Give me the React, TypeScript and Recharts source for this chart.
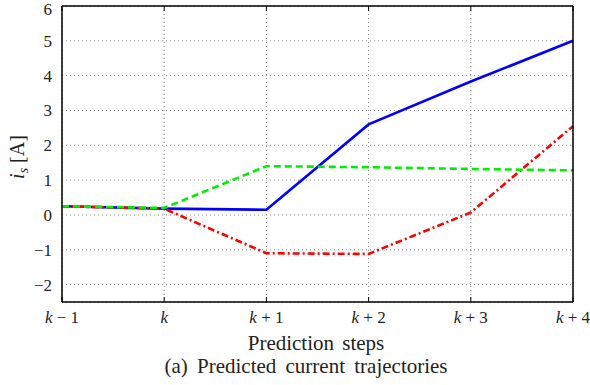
import React from 'react';
import { LineChart, Line, XAxis, YAxis, CartesianGrid } from 'recharts';

// prediction steps k-1 ... k+4
const steps = [0, 1, 2, 3, 4, 5];
const stepSuffix = ['\u2212 1', '', '+ 1', '+ 2', '+ 3', '+ 4'];
const blueTrajectory = [0.25, 0.18, 0.15, 2.6, 3.83, 5.0];
const greenTrajectory = [0.25, 0.2, 1.4, 1.37, 1.32, 1.28];
const redTrajectory = [0.25, 0.18, -1.1, -1.12, 0.07, 2.55];
const yTicks = [-2, -1, 0, 1, 2, 3, 4, 5, 6];

const data = steps.map((s, i) => ({
  step: s,
  blue: blueTrajectory[i],
  green: greenTrajectory[i],
  red: redTrajectory[i],
}));

const FONT = '"Liberation Serif", "Times New Roman", serif';
const INK = '#222';

const Empty = () => <g />;

const StepTick = (props: any) => {
  const { x, y, payload } = props;
  const suffix = stepSuffix[payload.value] || '';
  return (
    <text x={x} y={y + 13} textAnchor="middle" fontFamily={FONT} fontSize={17} fill={INK} style={{ whiteSpace: 'pre' }}>
      <tspan fontStyle="italic">k</tspan>
      {suffix ? <tspan>{' ' + suffix}</tspan> : null}
    </text>
  );
};

const ValueTick = (props: any) => {
  const { x, y, payload } = props;
  const v = payload.value as number;
  const label = v < 0 ? '\u2212' + Math.abs(v) : String(v);
  return (
    <text x={x - 2} y={y + 6} textAnchor="end" fontFamily={FONT} fontSize={17} fill={INK}>
      {label}
    </text>
  );
};

const boxLine = { stroke: '#000', strokeWidth: 1.5 };
const tickMark = { stroke: '#000' };

export default function App() {
  return (
    <div style={{ position: 'absolute', left: 0, top: 0, width: 590, height: 385, background: '#fff' }}>
      <LineChart width={590} height={385} data={data} margin={{ top: 6, right: 17, bottom: 53, left: 22 }}>
        {/* box and inside tick marks, drawn by mirrored axes */}
        <XAxis xAxisId="bt" dataKey="step" type="number" domain={[0, 5]} ticks={steps} orientation="bottom"
          mirror height={1} tick={Empty} tickSize={5} axisLine={boxLine} tickLine={tickMark} />
        <XAxis xAxisId="tp" dataKey="step" type="number" domain={[0, 5]} ticks={steps} orientation="top"
          mirror height={1} tick={Empty} tickSize={5} axisLine={boxLine} tickLine={tickMark} />
        <YAxis yAxisId="lf" type="number" domain={[-2.5, 6]} ticks={yTicks} orientation="left"
          mirror width={1} tick={Empty} tickSize={5} axisLine={boxLine} tickLine={tickMark} />
        <YAxis yAxisId="rt" type="number" domain={[-2.5, 6]} ticks={yTicks} orientation="right"
          mirror width={1} tick={Empty} tickSize={5} axisLine={boxLine} tickLine={tickMark} />

        <XAxis dataKey="step" type="number" domain={[0, 5]} ticks={steps} height={30}
          axisLine={false} tickLine={false} tick={StepTick} />
        <YAxis type="number" domain={[-2.5, 6]} ticks={yTicks} width={40}
          axisLine={false} tickLine={false} tick={ValueTick} />

        <CartesianGrid stroke="#888" strokeDasharray="1 3" />

        <Line type="linear" dataKey="blue" stroke="#0000ff" strokeWidth={2.6} dot={false} isAnimationActive={false} />
        <Line type="linear" dataKey="red" stroke="#ff0000" strokeWidth={2.6} strokeDasharray="7 3 2 3" dot={false} isAnimationActive={false} />
        <Line type="linear" dataKey="green" stroke="#00ee00" strokeWidth={2.6} strokeDasharray="7 4" dot={false} isAnimationActive={false} />
      </LineChart>

      <div style={{ position: 'absolute', left: 17, top: 157, width: 0, height: 0, fontFamily: FONT, fontSize: 20, color: INK }}>
        <div style={{ position: 'absolute', left: 0, top: 0, transform: 'translate(-50%, -50%) rotate(-90deg)', whiteSpace: 'nowrap', lineHeight: 1 }}>
          <i>i</i><i style={{ fontSize: 14, position: 'relative', top: 4 }}>s</i>{' '}[A]
        </div>
      </div>
      <div style={{ position: 'absolute', left: 216, width: 200, top: 333, textAlign: 'center', fontFamily: FONT, fontSize: 21, color: INK, wordSpacing: 3, lineHeight: 1 }}>
        Prediction steps
      </div>
      <div style={{ position: 'absolute', left: 106, width: 400, top: 356, textAlign: 'center', fontFamily: FONT, fontSize: 21, color: INK, wordSpacing: 4, lineHeight: 1 }}>
        (a) Predicted current trajectories
      </div>
    </div>
  );
}
